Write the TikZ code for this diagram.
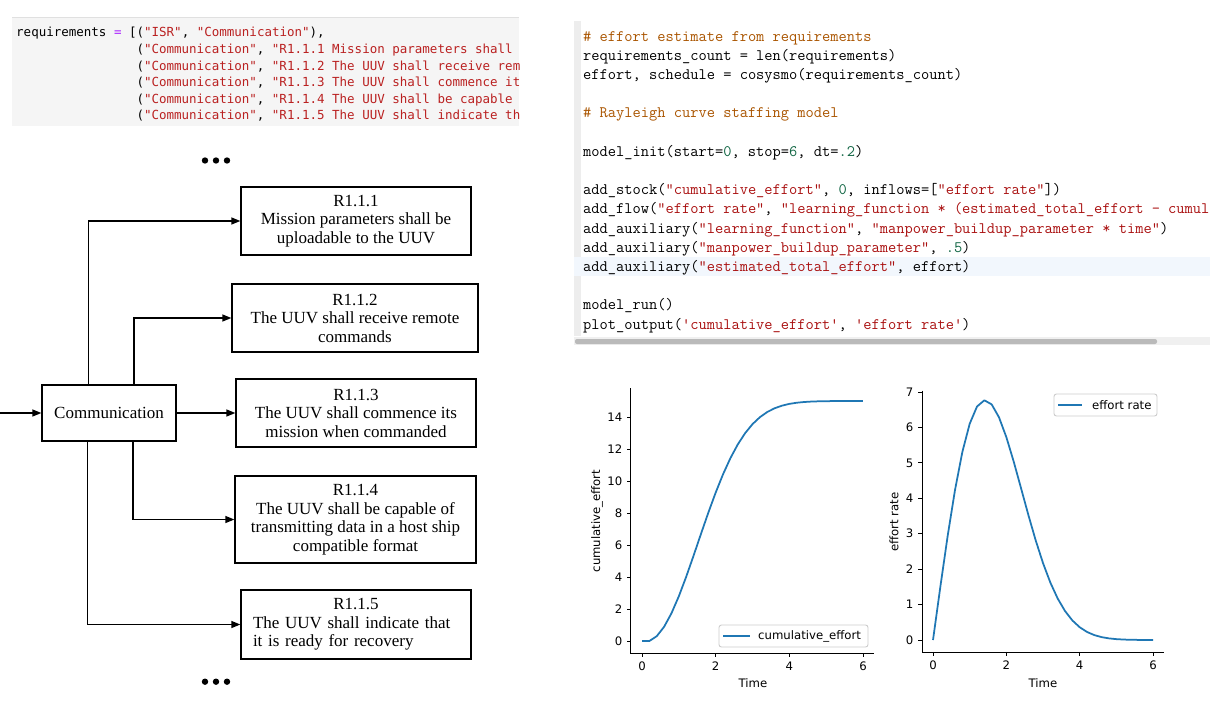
\documentclass[tikz,border=0pt]{standalone}
\usepackage{fontspec}
\usetikzlibrary{arrows.meta, positioning}
\newfontfamily\diagfont{Liberation Serif}
\newfontfamily\plotfont{DejaVu Sans}
\newfontfamily\codefont{DejaVu Sans Mono}
\definecolor{pystr}{HTML}{BA2121}
\definecolor{pyop}{HTML}{AA22FF}
\definecolor{cmstr}{HTML}{AA1111}
\definecolor{cmnum}{HTML}{116644}
\definecolor{cmcom}{HTML}{AA5500}
\definecolor{mplblue}{HTML}{1F77B4}
\definecolor{celgrey}{HTML}{F5F5F5}
\definecolor{selblue}{HTML}{F2F7FD}
\newcommand{\strpy}[1]{\textcolor{pystr}{#1}}
\newcommand{\strcm}[1]{\textcolor{cmstr}{#1}}
\newcommand{\numcm}[1]{\textcolor{cmnum}{#1}}
\newcommand{\comcm}[1]{\textcolor{cmcom}{#1}}
\tikzset{
  reqnode/.style={draw, line width=1.3pt, font=\diagfont\fontsize{17}{18.5}\selectfont, align=center, inner sep=0pt},
  link/.style={-{Triangle[length=9pt,width=7pt]}, line width=1.3pt},
  pyline/.style={anchor=mid west, inner sep=0pt, font=\codefont\fontsize{12.5}{15}\selectfont},
  cmline/.style={anchor=mid west, inner sep=0pt, font=\ttfamily\fontsize{16}{19}\selectfont},
  ticklab/.style={font=\plotfont\fontsize{11.7}{14}\selectfont, inner sep=0pt},
  spine/.style={line width=0.95pt},
  curve/.style={mplblue, line width=1.75pt, line join=round},
  legbox/.style={draw=black!20, fill=white, rounded corners=2.5pt, line width=0.9pt},
}
\begin{document}
\begin{tikzpicture}[x=1pt, y=-1pt]
  \path[use as bounding box, fill=white] (0,0) rectangle (1210,723);

  % requirements cell
  \fill[celgrey] (12,17) rectangle (519,126);
  \draw[black!12, line width=0.8pt] (12,17.4) -- (519,17.4);
  \begin{scope}
    \clip (12,17) rectangle (519,126);
    \node[pyline] (pyl0) at (16,34.8) {requirements \textcolor{pyop}{=} [(\strpy{"ISR"}, \strpy{"Communication"}),};
    \foreach \i/\req in {1/Mission parameters shall, 2/The UUV shall receive rem, 3/The UUV shall commence it, 4/The UUV shall be capable, 5/The UUV shall indicate th}
      \node[pyline] (pyl\i) at (136.3,34.8+16.55*\i) {(\strpy{"Communication"}, \strpy{"R1.1.\i\ \req}};
  \end{scope}

  % model cell
  \fill[black!7] (574,21) rectangle (580.5,336);
  \fill[selblue] (574,257.3) rectangle (1210,276);
  \fill[black!6] (574,336.5) rectangle (1210,345);
  \fill[black!27, rounded corners=2pt] (575,339) rectangle (1157,344);
  \begin{scope}
    \clip (574,0) rectangle (1210,350);
    \node[cmline] (cml0) at (583,39) {\comcm{\# effort estimate from requirements}};
    \node[cmline] (cml1) at (583,58.2) {requirements\_count = len(requirements)};
    \node[cmline] (cml2) at (583,77.4) {effort, schedule = cosysmo(requirements\_count)};
    \node[cmline] (cml4) at (583,115.8) {\comcm{\# Rayleigh curve staffing model}};
    \node[cmline] (cml6) at (583,154.2) {model\_init(start=\numcm{0}, stop=\numcm{6}, dt=\numcm{.2})};
    \node[cmline] (cml8) at (583,192.6) {add\_stock(\strcm{"cumulative\_effort"}, \numcm{0}, inflows=[\strcm{"effort rate"}])};
    \node[cmline] (cml9) at (583,211.8) {add\_flow(\strcm{"effort rate"}, \strcm{"learning\_function * (estimated\_total\_effort - cumul}};
    \node[cmline] (cml10) at (583,231) {add\_auxiliary(\strcm{"learning\_function"}, \strcm{"manpower\_buildup\_parameter * time"})};
    \node[cmline] (cml11) at (583,250.2) {add\_auxiliary(\strcm{"manpower\_buildup\_parameter"}, \numcm{.5})};
    \node[cmline] (cml12) at (583,269.4) {add\_auxiliary(\strcm{"estimated\_total\_effort"}, effort)};
    \node[cmline] (cml14) at (583,307.8) {model\_run()};
    \node[cmline] (cml15) at (583,327) {plot\_output(\strcm{\textquotesingle cumulative\_effort\textquotesingle}, \strcm{\textquotesingle effort rate\textquotesingle})};
  \end{scope}

  % requirement tree
  \node[reqnode, minimum width=134pt, minimum height=56pt] (comm) at (109,413) {Communication};
  \node[reqnode, minimum width=230pt, minimum height=68pt] (r1) at (356,221) {R1.1.1\\Mission parameters shall be\\uploadable to the UUV};
  \node[reqnode, minimum width=246pt, minimum height=68pt] (r2) at (355,318) {R1.1.2\\The UUV shall receive remote\\commands};
  \node[reqnode, minimum width=240pt, minimum height=68pt] (r3) at (356,413) {R1.1.3\\The UUV shall commence its\\mission when commanded};
  \node[reqnode, minimum width=241pt, minimum height=87pt] (r4) at (355.5,519.5) {R1.1.4\\The UUV shall be capable of\\transmitting data in a host ship\\compatible format};
  \node[reqnode, minimum width=230pt, minimum height=69pt, text width=206pt, align=left] (r5) at (356,624.5) {{\centering R1.1.5\par}The UUV shall indicate that\\it is ready for recovery};
  \coordinate (src) at (0,413);
  \draw[link] (src) -- (comm);
  \draw[link] (comm.126.9) |- (r1);
  \draw[link] (comm.49.4) |- (r2);
  \draw[link] (comm) -- (r3);
  \draw[link] (comm.310.6) |- (r4);
  \draw[link] (comm.233.1) |- (r5);
  \foreach \dx in {0,11,22} {
    \fill (205+\dx,160.5) circle (3.2pt);
    \fill (205+\dx,681.7) circle (3.2pt);
  }

  % cumulative effort plot
  \begin{scope}[shift={(642pt,-641pt)}, x=36.83pt, y=16pt]
    \draw[spine] (-0.3,15.81) -- (-0.3,-0.75) -- (6.3,-0.75);
    \foreach \t in {0,2,4,6}
      \draw[spine] (\t,-0.75) -- ++(0,-4.1pt) node[ticklab, below=4.1pt] (lx\t) {\t};
    \foreach \v in {0,2,...,14}
      \draw[spine] (-0.3,\v) -- ++(-4.1pt,0) node[ticklab, left=4.1pt] (ly\v) {\v};
    \draw[curve] plot coordinates {(0,0) (0.2,0) (0.4,0.3) (0.6,0.888) (0.8,1.7347) (1.0,2.7959) (1.2,4.0163) (1.4,5.3344) (1.6,6.6876) (1.8,8.0176) (2.0,9.2744) (2.2,10.4195) (2.4,11.4272) (2.6,12.2847) (2.8,12.9907) (3.0,13.5533) (3.2,13.9873) (3.4,14.3114) (3.6,14.5455) (3.8,14.7091) (4.0,14.8197) (4.2,14.8918) (4.4,14.9372) (4.6,14.9649) (4.8,14.981) (5.0,14.9901) (5.2,14.9951) (5.4,14.9976) (5.6,14.9989) (5.8,14.9995) (6.0,14.9998)};
  \end{scope}
  \draw[legbox] (719,625) rectangle (868,647);
  \draw[curve] (723,636) -- (750,636);
  \node[ticklab, anchor=west] (leg1) at (758,636) {cumulative\_effort};
  \node[ticklab] (xl1) at (753,683) {Time};
  \node[ticklab, rotate=90] (yl1) at (597,521) {cumulative\_effort};

  % effort rate plot
  \begin{scope}[shift={(933pt,-640pt)}, x=36.67pt, y=35.43pt]
    \draw[spine] (-0.3,7.04) -- (-0.3,-0.338) -- (6.3,-0.338);
    \foreach \t in {0,2,4,6}
      \draw[spine] (\t,-0.338) -- ++(0,-4.1pt) node[ticklab, below=4.1pt] (rx\t) {\t};
    \foreach \v in {0,...,7}
      \draw[spine] (-0.3,\v) -- ++(-4.1pt,0) node[ticklab, left=4.1pt] (ry\v) {\v};
    \draw[curve] plot coordinates {(0,0) (0.2,1.5) (0.4,2.94) (0.6,4.2336) (0.8,5.3061) (1.0,6.102) (1.2,6.5902) (1.4,6.7659) (1.6,6.6499) (1.8,6.2842) (2.0,5.7256) (2.2,5.0385) (2.4,4.2873) (2.6,3.5299) (2.8,2.8131) (3.0,2.1701) (3.2,1.6203) (3.4,1.1707) (3.6,0.8181) (3.8,0.5527) (4.0,0.3607) (4.2,0.2272) (4.4,0.1381) (4.6,0.0808) (4.8,0.0455) (5.0,0.0247) (5.2,0.0128) (5.4,0.0064) (5.6,0.0031) (5.8,0.0014) (6.0,0.0007)};
  \end{scope}
  \draw[legbox] (1054,394) rectangle (1157,416);
  \draw[curve] (1058,405) -- (1082,405);
  \node[ticklab, anchor=west] (leg2) at (1092,405) {effort rate};
  \node[ticklab] (xl2) at (1043,683) {Time};
  \node[ticklab, rotate=90] (yl2) at (894,522) {effort rate};
\end{tikzpicture}
\end{document}
